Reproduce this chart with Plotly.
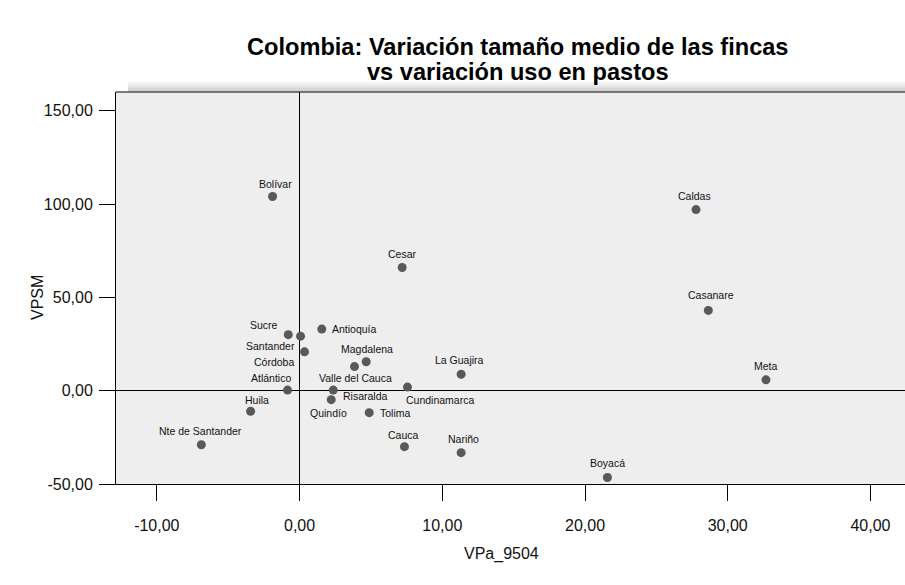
import plotly.graph_objects as go

# ---- data ----
departamentos = [
    "Bolívar", "Cesar", "Caldas", "Casanare", "Meta", "Boyacá",
    "Sucre", "Santander", "Antioquía", "Córdoba", "Valle del Cauca",
    "Magdalena", "La Guajira", "Atlántico", "Risaralda", "Cundinamarca",
    "Quindío", "Huila", "Tolima", "Nte de Santander", "Cauca", "Nariño",
]
vpa_9504 = [
    -1.89, 7.19, 27.78, 28.64, 32.68, 21.57,
    -0.79, 0.07, 1.56, 0.35, 3.85,
    4.67, 11.32, -0.84, 2.36, 7.56,
    2.22, -3.43, 4.88, -6.88, 7.35, 11.32,
]
vpsm = [
    104.0, 66.0, 97.0, 43.0, 5.8, -46.5,
    30.0, 29.2, 33.0, 20.8, 12.9,
    15.5, 8.8, 0.3, 0.3, 1.9,
    -4.8, -11.0, -11.8, -29.0, -30.0, -33.2,
]
x_ticks = [-10, 0, 10, 20, 30, 40]
x_tick_labels = ["-10,00", "0,00", "10,00", "20,00", "30,00", "40,00"]
y_ticks = [-50, 0, 50, 100, 150]
y_tick_labels = ["-50,00", "0,00", "50,00", "100,00", "150,00"]

title_lines = ["Colombia: Variación tamaño medio de las fincas",
               "vs variación uso en pastos"]
x_title = "VPa_9504"
y_title = "VPSM"

# ---- label placement (style: anchor, x shift px, y shift px) ----
label_place = {
    "Bolívar": ("center", 3, 13), "Cesar": ("center", 0, 13),
    "Caldas": ("center", -2, 14), "Casanare": ("center", 3, 15),
    "Meta": ("center", 0, 14), "Boyacá": ("center", 0, 14),
    "La Guajira": ("center", -2, 14), "Nariño": ("center", 2, 14),
    "Cauca": ("center", -1, 12), "Nte de Santander": ("center", -1, 14),
    "Huila": ("center", 6, 11), "Tolima": ("left", 9, 0),
    "Antioquía": ("left", 8, 0), "Quindío": ("center", -3, -13),
    "Risaralda": ("left", 8, -6), "Cundinamarca": ("left", -3, -13),
    "Valle del Cauca": ("center", 1, -11), "Magdalena": ("center", 1, 13),
    "Atlántico": ("right", 5, 12), "Córdoba": ("right", -9, -10),
    "Santander": ("right", -4, -10), "Sucre": ("right", -8, 10),
}

FONT = "Liberation Sans, Arial, Helvetica, sans-serif"

W, H = 905, 585
ML, MR, MT, MB = 116, 0, 92, 101
PW, PH = W - ML - MR, H - MT - MB


def px(xp):
    return (xp - ML) / PW


def py(yp):
    return (H - MB - yp) / PH


fig = go.Figure()
fig.add_trace(go.Scatter(
    x=vpa_9504, y=vpsm, mode="markers",
    marker=dict(size=9, color="#595959", line=dict(width=0)),
    hovertext=departamentos, showlegend=False,
))

annotations = []
for name, xv, yv in zip(departamentos, vpa_9504, vpsm):
    anc, dx, dy = label_place[name]
    annotations.append(dict(
        x=xv, y=yv, xref="x", yref="y", text=name, showarrow=False,
        xanchor=anc, yanchor="middle", xshift=dx, yshift=dy,
        font=dict(family=FONT, size=10.5, color="#111111"),
    ))

# title (two lines, tight spacing)
for line, yc in zip(title_lines, [47, 72]):
    annotations.append(dict(
        x=px(518), y=py(yc), xref="paper", yref="paper", text="<b>%s</b>" % line,
        showarrow=False, xanchor="center", yanchor="middle",
        font=dict(family=FONT, size=23.6, color="#000000"),
    ))

annotations.append(dict(
    x=px(37), y=py(298), xref="paper", yref="paper", text=y_title,
    showarrow=False, textangle=-90, xanchor="center", yanchor="middle",
    font=dict(family=FONT, size=16, color="#111111"),
))
annotations.append(dict(
    x=px(501), y=py(554), xref="paper", yref="paper", text=x_title,
    showarrow=False, xanchor="center", yanchor="middle",
    font=dict(family=FONT, size=16, color="#111111"),
))

# shadow band above the plot frame
shapes = []
shade = ["#f7f7f7", "#eeeeee", "#e2e2e2", "#d6d6d6", "#cbcbcb"]
band = 2.0 / PH
for i, c in enumerate(shade):
    shapes.append(dict(
        type="rect", xref="paper", yref="paper",
        x0=px(128), x1=1.0, y0=1.0 + 0.5 / PH + (4 - i) * band,
        y1=1.0 + 0.5 / PH + (5 - i) * band,
        fillcolor=c, line=dict(width=0), layer="below",
    ))
shapes.append(dict(type="line", xref="paper", yref="paper", x0=0, x1=1, y0=1, y1=1,
                   line=dict(color="#000000", width=1)))

fig.update_layout(
    width=W, height=H,
    margin=dict(l=ML, r=MR, t=MT, b=MB),
    paper_bgcolor="white", plot_bgcolor="#eeeeee",
    annotations=annotations, shapes=shapes,
    xaxis=dict(range=[-12.86, 42.42], tickvals=x_ticks, ticktext=x_tick_labels,
               ticks="outside", ticklen=16, tickcolor="#000000", tickwidth=1,
               showgrid=False, zeroline=True, zerolinecolor="#000000", zerolinewidth=1,
               showline=True, linecolor="#000000", linewidth=1, mirror=False,
               ticklabelstandoff=11,
               tickfont=dict(family=FONT, size=16, color="#111111")),
    yaxis=dict(range=[-50, 160.0], tickvals=y_ticks, ticktext=y_tick_labels,
               ticks="outside", ticklen=16, tickcolor="#000000", tickwidth=1,
               showgrid=False, zeroline=True, zerolinecolor="#000000", zerolinewidth=1,
               showline=True, linecolor="#000000", linewidth=1, mirror=False,
               ticklabelstandoff=3,
               tickfont=dict(family=FONT, size=16, color="#111111")),
)

fig.write_html("out.html",
               config={"displayModeBar": False},
               post_script="document.body.style.margin='0px';document.body.style.overflow='hidden';")
